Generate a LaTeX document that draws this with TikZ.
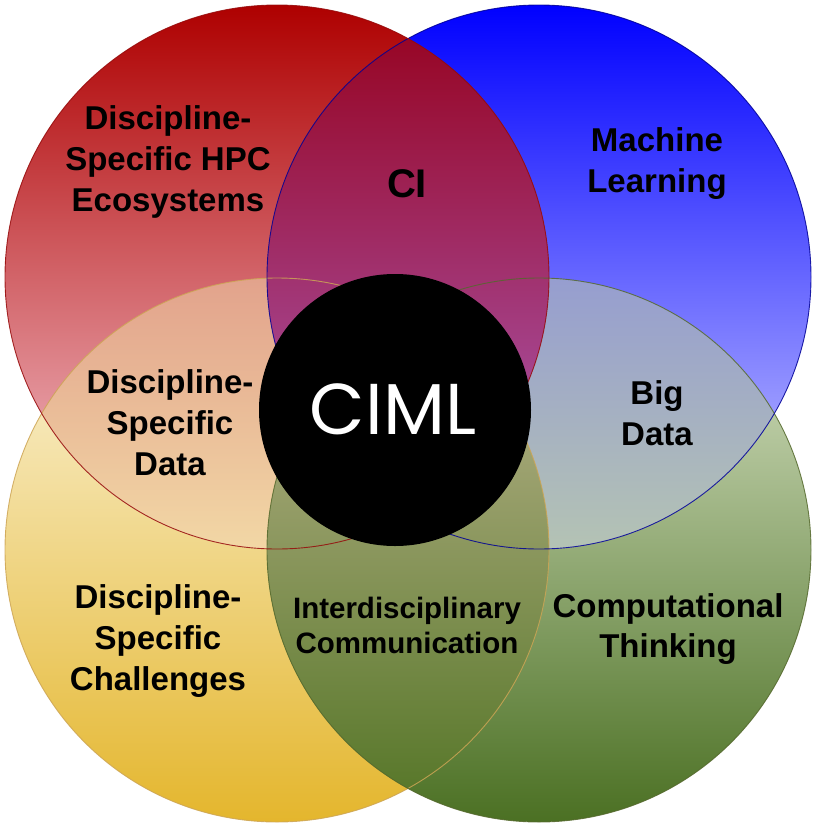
\documentclass[tikz,border=0pt]{standalone}
\usepackage{fontspec}
\setmainfont{Liberation Sans}
\newfontfamily\cimlfont{Poppins}
\begin{document}
\begin{tikzpicture}[x=1pt,y=-1pt,
  lbl/.style={font=\fontsize{33}{41}\selectfont\bfseries, align=center, text=black, inner sep=0},
  smalllbl/.style={font=\fontsize{29.5}{35}\selectfont\bfseries, align=center, text=black, inner sep=0},
  rim/.style={line width=0.9pt, draw opacity=0.85}]
\useasboundingbox (0,0) rectangle (817,825);
\definecolor{redtop}{RGB}{174,0,0}
\definecolor{redbot}{RGB}{246,200,210}
\definecolor{bluetop}{RGB}{0,0,255}
\definecolor{bluebot}{RGB}{205,205,255}
\definecolor{yeltop}{RGB}{252,247,228}
\definecolor{yelbot}{RGB}{228,182,45}
\definecolor{grntop}{RGB}{222,232,205}
\definecolor{grnbot}{RGB}{75,112,35}
\definecolor{citop}{RGB}{150,0,28}
\definecolor{cibot}{RGB}{172,100,195}
\definecolor{bdtop}{RGB}{120,120,235}
\definecolor{bdbot}{RGB}{180,195,180}
\definecolor{ddtop}{RGB}{210,110,115}
\definecolor{ddbot}{RGB}{242,215,165}
\definecolor{idtop}{RGB}{195,185,150}
\definecolor{idmid}{RGB}{160,165,95}
\definecolor{idbot}{RGB}{82,116,36}
\definecolor{redrim}{RGB}{150,10,10}
\definecolor{bluerim}{RGB}{0,0,150}
\definecolor{yelrim}{RGB}{205,165,85}
\definecolor{grnrim}{RGB}{85,105,45}

\coordinate (R) at (277,277);
\coordinate (B) at (539,277);
\coordinate (Y) at (277,550);
\coordinate (G) at (539,550);

% base circles
\shade[top color=yeltop, bottom color=yelbot] (Y) circle[radius=272];
\shade[top color=grntop, bottom color=grnbot] (G) circle[radius=272];
\shade[top color=bluetop, bottom color=bluebot] (B) circle[radius=272];
\shade[top color=redtop, bottom color=redbot] (R) circle[radius=272];

% overlaps
\begin{scope}
  \clip (Y) circle[radius=272];
  \shade[top color=ddtop, bottom color=ddbot] (R) circle[radius=272];
\end{scope}
\begin{scope}
  \clip (G) circle[radius=272];
  \shade[top color=bdtop, bottom color=bdbot] (B) circle[radius=272];
\end{scope}
\begin{scope}
  \clip (Y) circle[radius=272];
  \shade[top color=idtop, middle color=idmid, bottom color=idbot] (G) circle[radius=272];
\end{scope}
\begin{scope}
  \clip (B) circle[radius=272];
  \shade[top color=citop, bottom color=cibot] (R) circle[radius=272];
\end{scope}

% rims
\draw[rim, draw=yelrim] (Y) circle[radius=272];
\draw[rim, draw=grnrim] (G) circle[radius=272];
\draw[rim, draw=bluerim] (B) circle[radius=272];
\draw[rim, draw=redrim] (R) circle[radius=272];

% centre
\node[circle, fill=black, minimum size=272pt, inner sep=0] (core) at (395,410) {};
\node[text=white, inner sep=0, font=\cimlfont\fontsize{72}{72}\selectfont] (ciml) at (393,409) {CIML};

% labels
\node[lbl] (hpc) at (168,162) {Discipline-\\Specific HPC\\Ecosystems};
\node[lbl, font=\fontsize{40}{44}\selectfont\bfseries] (ci) at (407,184) {CI};
\node[lbl] (ml) at (657,164) {Machine\\Learning};
\node[lbl] (dsdata) at (170,423) {Discipline-\\Specific\\Data};
\node[lbl] (bigdata) at (657,413) {Big\\Data};
\node[lbl] (dschal) at (158,641) {Discipline-\\Specific\\Challenges};
\node[smalllbl] (interd) at (407,625) {Interdisciplinary\\Communication};
\node[lbl, font=\fontsize{33}{40}\selectfont\bfseries] (ct) at (668,629) {Computational\\Thinking};
\end{tikzpicture}
\end{document}
